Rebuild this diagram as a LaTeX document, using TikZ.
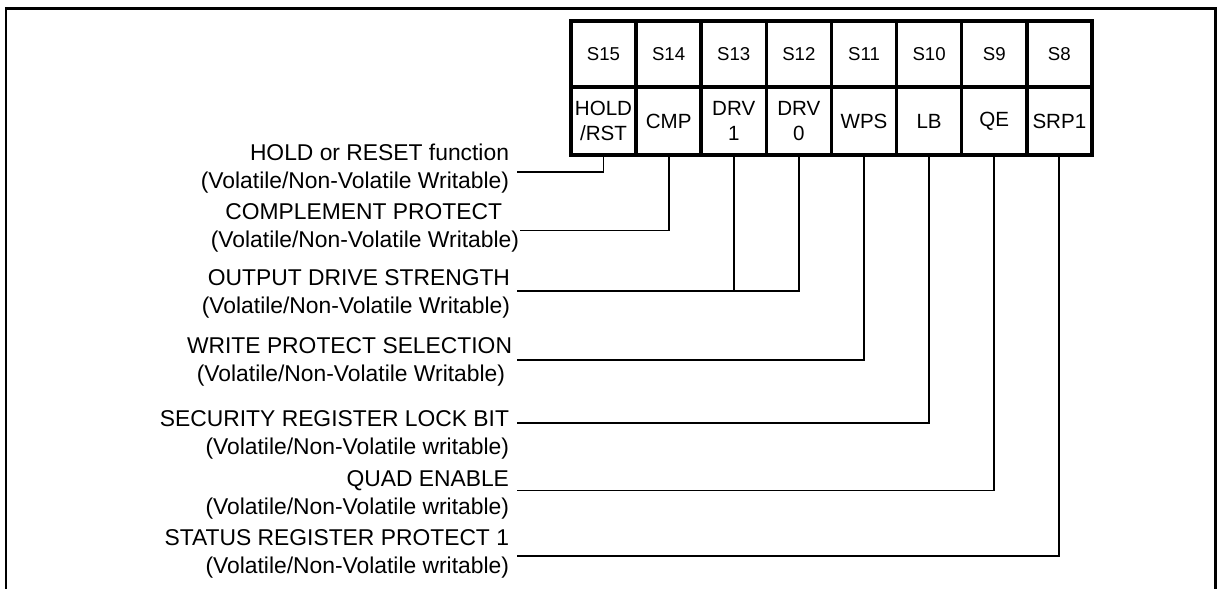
\documentclass[tikz,border=0pt]{standalone}
\usepackage{fontspec}
\setmainfont{Liberation Sans}
\usetikzlibrary{positioning}

\begin{document}
\begin{tikzpicture}[
x=1cm,
y=1cm,
every node/.style={text=black,outer sep=0pt},
bitcell/.style={draw=black,line width=2pt,minimum width=1.3025cm,minimum height=1.32cm,inner sep=0pt,align=center,font=\fontsize{10.6}{12.7}\selectfont},
namecell/.style={bitcell,minimum height=1.36cm,font=\fontsize{11.7}{14.2}\selectfont},
fieldlabel/.style={align=right,inner sep=0pt,anchor=base east,font=\fontsize{13}{16.2}\selectfont},
leader/.style={draw=black,line width=1.1pt}
]

\path[use as bounding box] (0,0) rectangle (24.42,11.78);

\draw[line width=1.7pt] (0.12,0) -- (0.12,11.60) -- (24.31,11.60) -- (24.31,0);

\node[bitcell] (s15) at (12.07,10.70) {S15};
\node[bitcell,right=0pt of s15] (s14) {S14};
\node[bitcell,right=0pt of s14] (s13) {S13};
\node[bitcell,right=0pt of s13] (s12) {S12};
\node[bitcell,right=0pt of s12] (s11) {S11};
\node[bitcell,right=0pt of s11] (s10) {S10};
\node[bitcell,right=0pt of s10] (s9) {S9};
\node[bitcell,right=0pt of s9] (s8) {S8};

\node[namecell,below=0pt of s15] (holdrst) {HOLD\\/RST};
\node[namecell,right=0pt of holdrst] (cmp) {CMP};
\node[namecell,right=0pt of cmp] (drvone) {DRV\\1};
\node[namecell,right=0pt of drvone] (drvzero) {DRV\\0};
\node[namecell,right=0pt of drvzero] (wps) {WPS};
\node[namecell,right=0pt of wps] (lb) {LB};
\node[namecell,right=0pt of lb] (qe) {QE};
\node[namecell,right=0pt of qe] (srpone) {SRP1};

\node[fieldlabel] (holdlbl) at (10.18,8.01) {HOLD or RESET function\\(Volatile/Non-Volatile Writable)};
\node[fieldlabel] (cmplbl) at (10.38,6.83) {COMPLEMENT PROTECT\hspace*{0.34cm}\\(Volatile/Non-Volatile Writable)};
\node[fieldlabel] (drvlbl) at (10.20,5.51) {OUTPUT DRIVE STRENGTH\\(Volatile/Non-Volatile Writable)};
\node[fieldlabel] (wpslbl) at (10.24,4.15) {WRITE PROTECT SELECTION\\(Volatile/Non-Volatile Writable)\hspace*{0.14cm}};
\node[fieldlabel] (lblbl) at (10.18,2.69) {SECURITY REGISTER LOCK BIT\\(Volatile/Non-Volatile writable)};
\node[fieldlabel] (qelbl) at (10.18,1.49) {QUAD ENABLE\\(Volatile/Non-Volatile writable)};
\node[fieldlabel] (srplbl) at (10.18,0.31) {STATUS REGISTER PROTECT 1\\(Volatile/Non-Volatile writable)};

\coordinate (holdend) at (10.33,8.34);
\coordinate (cmpend) at (10.40,7.17);
\coordinate (drvend) at (10.33,5.96);
\coordinate (wpsend) at (10.34,4.58);
\coordinate (lbend) at (10.33,3.32);
\coordinate (qeend) at (10.33,1.97);
\coordinate (srpend) at (10.33,0.66);

\draw[leader] (holdrst.south) |- (holdend);
\draw[leader] (cmp.south) |- (cmpend);
\draw[leader] (drvone.south) |- (drvend);
\draw[leader] (drvzero.south) |- (drvend);
\draw[leader] (wps.south) |- (wpsend);
\draw[leader] (lb.south) |- (lbend);
\draw[leader] (qe.south) |- (qeend);
\draw[leader] (srpone.south) |- (srpend);

\end{tikzpicture}
\end{document}
